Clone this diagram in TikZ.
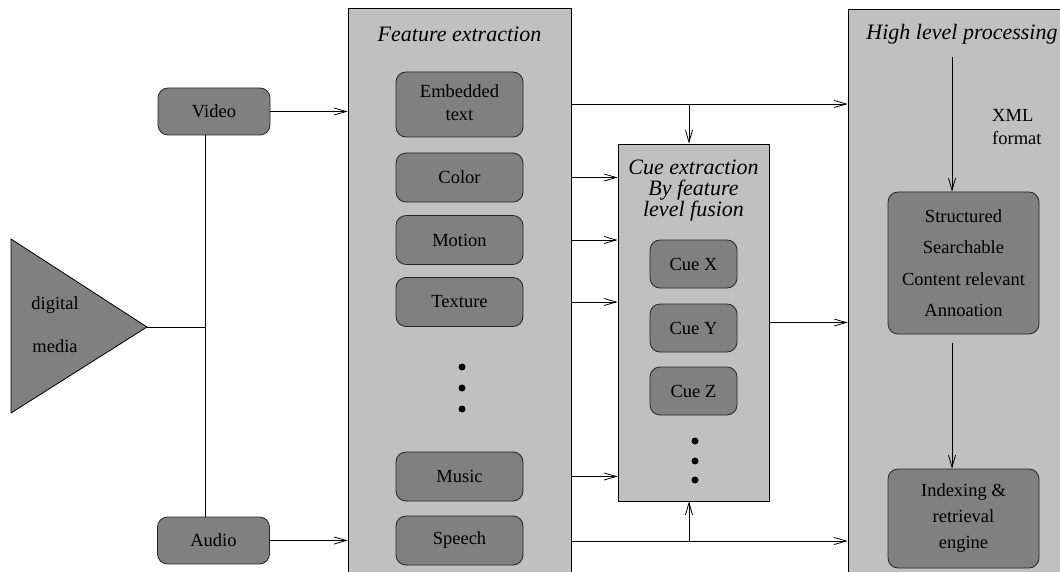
\documentclass[tikz,border=0pt]{standalone}
\usepackage{fontspec}
\setmainfont{Liberation Serif}
\usetikzlibrary{arrows.meta}
\definecolor{panelgray}{HTML}{C0C0C0}
\definecolor{boxgray}{HTML}{808080}
\newcommand\mybody{\fontsize{18.5}{22}\selectfont}
\newcommand\mytitle{\fontsize{22}{21}\selectfont\itshape}
\begin{document}
\begin{tikzpicture}[x=1pt,y=-1pt,
  panel/.style={draw=black, fill=panelgray, line width=0.8pt, inner sep=0pt},
  box/.style={draw=black!85, fill=boxgray, rounded corners=10pt, line width=0.8pt, inner sep=0pt, align=center, font=\mybody},
  sbox/.style={box, minimum width=127pt, minimum height=49pt},
  cbox/.style={box, minimum width=87pt, minimum height=48pt},
  ttl/.style={font=\mytitle, inner sep=0pt, align=center},
  lbl/.style={font=\mybody, inner sep=0pt},
  dot/.style={circle, fill=black, inner sep=0pt, minimum size=7pt},
  arr/.style={-{Straight Barb[length=12pt,width=7pt]}, line width=0.8pt},
  ln/.style={line width=0.8pt}]
\clip (0,0) rectangle (1060,572);
% panels
\node[panel, minimum width=223pt, minimum height=572pt] (fe) at (459.5,294) {};
\node[ttl] (fet) at (459.5,34) {Feature extraction};
\node[panel, minimum width=151pt, minimum height=357pt] (cue) at (693.5,322.5) {};
\node[ttl] (cuet) at (693.5,191) {Cue extraction\\By feature\\level fusion};
\node[panel, minimum width=230pt, minimum height=572pt] (hl) at (963,295) {};
\node[ttl] (hlt) at (962,34) {High level processing};
% source triangle
\draw[ln, fill=boxgray] (11,239) -- (147,327) -- (11,413) -- cycle;
\coordinate (tip) at (147,327);
\node[lbl] (dig) at (55,305) {digital};
\node[lbl] (med) at (55,346) {media};
% boxes
\node[box, minimum width=112pt, minimum height=47pt] (video) at (214,111.5) {\raisebox{-1.5pt}{Video}};
\node[box, minimum width=112pt, minimum height=47pt] (audio) at (213.5,540.5) {\raisebox{-1.5pt}{Audio}};
\node[box, minimum width=127pt, minimum height=65pt] (emb) at (459.5,104.5) {\raisebox{-4pt}{\begin{tabular}{@{}c@{}}Embedded\\[1pt]text\end{tabular}}};
\node[sbox] (color) at (459.5,177.5) {Color};
\node[sbox] (motion) at (459.5,240) {Motion};
\node[sbox] (texture) at (459.5,302) {Texture};
\node[dot] (fd1) at (462,367) {};
\node[dot] (fd2) at (462,388) {};
\node[dot] (fd3) at (462,409) {};
\node[sbox] (music) at (459.5,476.5) {Music};
\node[sbox] (speech) at (459.5,540.5) {\raisebox{-1.5pt}{Speech}};
\node[cbox] (cx) at (693.5,264) {Cue X};
\node[cbox] (cy) at (693.5,328) {Cue Y};
\node[cbox] (cz) at (693.5,391) {Cue Z};
\node[dot] (cd1) at (695,441) {};
\node[dot] (cd2) at (695,461) {};
\node[dot] (cd3) at (695,480) {};
\node[box, minimum width=151pt, minimum height=142pt, font=\fontsize{18.5}{31.5}\selectfont] (st) at (963.5,263) {Structured\\Searchable\\Content relevant\\Annoation};
\node[box, minimum width=151pt, minimum height=99pt, font=\fontsize{18.5}{26}\selectfont] (idx) at (963.5,518.5) {Indexing \&\\retrieval\\engine};
\node[lbl, anchor=west] (xml) at (992,115) {XML};
\node[lbl, anchor=west] (fmt) at (992,138) {format};
% connectors
\coordinate (vx) at (205,327);
\draw[ln] (tip) -- (vx);
\draw[ln] (video.south -| vx) -- (audio.north -| vx);
\draw[arr] (video.east) -- (video.east -| fe.west);
\draw[arr] (audio.east) -- (audio.east -| fe.west);
\coordinate (ty) at (689,104);
\draw[arr] (fe.east |- ty) -- (hl.west |- ty);
\draw[arr] (ty) -- (ty |- cue.north);
\draw[arr] (fe.east |- color) -- (cue.west |- color);
\draw[arr] (fe.east |- motion) -- (cue.west |- motion);
\draw[arr] (fe.east |- texture) -- (cue.west |- texture);
\draw[arr] (fe.east |- music) -- (cue.west |- music);
\coordinate (by) at (689,541);
\draw[arr] (fe.east |- by) -- (hl.west |- by);
\draw[arr] (by) -- (by |- cue.south);
\draw[arr] (cue.east) -- (cue.east -| hl.west);
\coordinate (xa) at (952,57);
\draw[arr] (xa) -- (xa |- st.north);
\coordinate (xb) at (952,343);
\draw[arr] (xb) -- (xb |- idx.north);
\end{tikzpicture}
\end{document}
